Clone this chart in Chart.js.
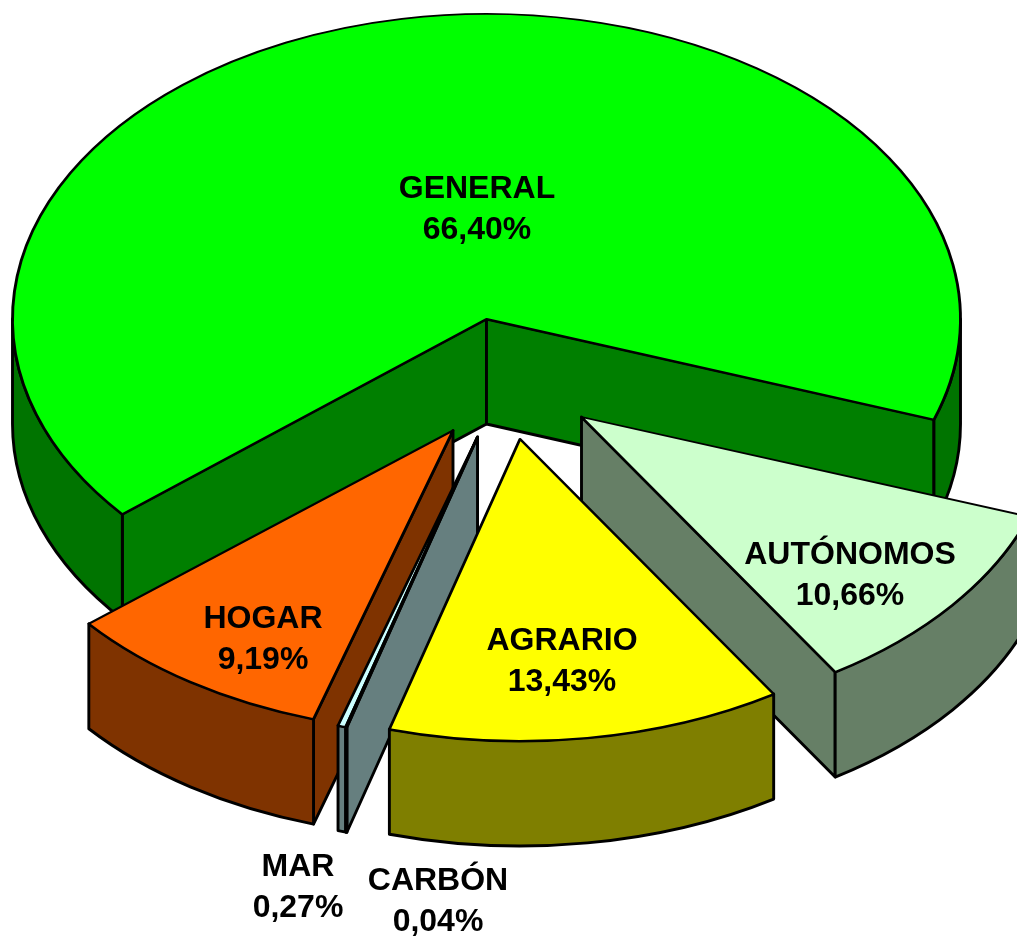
<!DOCTYPE html>
<html>
<head>
<meta charset="utf-8">
<style>html,body{margin:0;padding:0;background:#fff}canvas{display:block}</style>
<script src="https://cdn.jsdelivr.net/npm/chart.js@4"></script>
</head>
<body>
<canvas id="c" width="1017" height="936"></canvas>
<script>
const categories = ['GENERAL','AUTÓNOMOS','AGRARIO','CARBÓN','MAR','HOGAR'];
const shares = [66.40,10.66,13.43,0.04,0.27,9.19];
const topColors = ['#00FF00','#CCFFCC','#FFFF00','#CCFFFF','#CCFFFF','#FF6600'];
const radialColors = ['#007F00','#667F66','#7F7F00','#667F7F','#667F7F','#7F3300'];
const rimColors = ['#007400','#667F66','#7F7F00','#667F7F','#667F7F','#7F3300'];

// presentation of the 3-D exploded look (screen offsets of each slice)
const squashes = [0.6435,0.637,0.637,0.637,0.637,0.637];
const depth = 105, edge = 2.9;
const explode = [[0,0],[95,98],[33.5,120],[-9,118],[-9,118],[-33.5,111.5]];
const paintOrder = [0,1,5,4,3,2];
const labelCentres = [[477,189],[850,555],[562,641],[438,881],[298,867],[263,619]];
const lineGap = 41;

const pie3d = {
  id:'pie3d',
  beforeDatasetsDraw(chart){
    const ctx = chart.ctx, arcs = chart.getDatasetMeta(0).data;
    const PI = Math.PI;
    paintOrder.forEach(i=>{
      const a = arcs[i], [dx,dy] = explode[i], squash = squashes[i];
      const cx = a.x+dx, cy = a.y+dy, R = a.outerRadius, Ry = R*squash;
      const s = a.startAngle, e = a.endAngle;
      ctx.save();
      ctx.lineWidth = edge; ctx.strokeStyle='#000'; ctx.lineJoin='round';
      const radial = th=>{
        const x = cx+R*Math.cos(th), y = cy+Ry*Math.sin(th);
        ctx.beginPath();
        ctx.moveTo(cx,cy); ctx.lineTo(x,y); ctx.lineTo(x,y+depth); ctx.lineTo(cx,cy+depth); ctx.closePath();
        ctx.fillStyle = radialColors[i]; ctx.fill(); ctx.stroke();
      };
      if (Math.cos(s) < 0) radial(s);
      if (Math.cos(e) > 0) radial(e);
      [[0,PI],[2*PI,3*PI]].forEach(([lo,hi])=>{
        const a0 = Math.max(s,lo), a1 = Math.min(e,hi);
        if (a1 <= a0) return;
        ctx.beginPath();
        ctx.ellipse(cx,cy,R,Ry,0,a0,a1,false);
        ctx.ellipse(cx,cy+depth,R,Ry,0,a1,a0,true);
        ctx.closePath();
        ctx.fillStyle = rimColors[i]; ctx.fill(); ctx.stroke();
      });
      ctx.restore();
      // top face: the library's own arc element, flattened
      ctx.save();
      ctx.translate(cx,cy); ctx.scale(1,squash); ctx.translate(-a.x,-a.y);
      a.draw(ctx);
      ctx.restore();
    });
    ctx.save();
    ctx.fillStyle='#000';
    ctx.font='bold 32px "Liberation Sans", Arial, sans-serif';
    ctx.textAlign='center'; ctx.textBaseline='middle';
    categories.forEach((name,i)=>{
      const [x,y] = labelCentres[i];
      ctx.fillText(name,x,y);
      ctx.fillText(shares[i].toFixed(2).replace('.',',')+'%',x,y+lineGap);
    });
    ctx.restore();
    return false;
  }
};

new Chart(document.getElementById('c'),{
  type:'pie',
  data:{labels:categories,datasets:[{
    data:shares,
    backgroundColor:topColors,
    borderColor:'#000',
    borderWidth:edge,
    borderJoinStyle:'round',
    borderAlign:'center'
  }]},
  options:{
    responsive:false,
    animation:false,
    rotation:230.2,
    radius:474,
    layout:{padding:{left:0,top:0,right:44,bottom:298}},
    plugins:{legend:{display:false},tooltip:{enabled:false},title:{display:false}},
    events:[]
  },
  plugins:[pie3d]
});
</script>
</body>
</html>
